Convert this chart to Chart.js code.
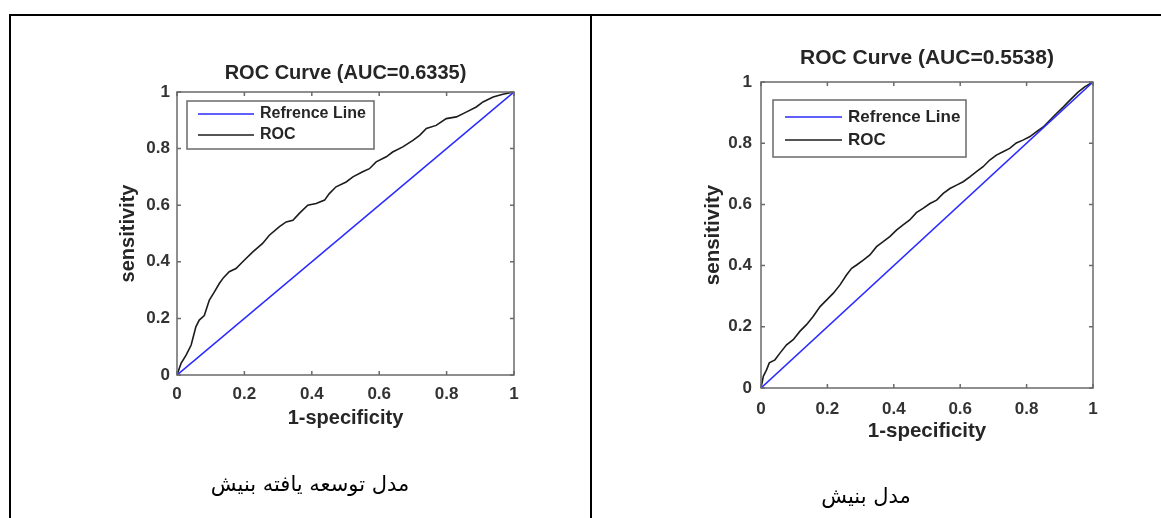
<!DOCTYPE html>
<html><head><meta charset="utf-8">
<script src="https://cdn.jsdelivr.net/npm/chart.js@4.4.0/dist/chart.umd.min.js"></script>
<style>
html,body{margin:0;padding:0;background:#fff;}
body{width:1161px;height:518px;position:relative;overflow:hidden;}
.line{position:absolute;background:#000;}
.cap{position:absolute;font-family:"DejaVu Sans";font-size:21px;color:#000;direction:rtl;white-space:nowrap;transform:translate(-50%,-50%);}
.box{position:absolute;}
</style></head><body>
<div class="line" style="left:9px;top:14px;width:1152px;height:2px"></div>
<div class="line" style="left:9px;top:14px;width:2px;height:504px"></div>
<div class="line" style="left:590px;top:14px;width:2px;height:504px"></div>
<div class="box" style="left:0;top:0;width:590px;height:518px"><canvas id="c1"></canvas></div>
<div class="box" style="left:592px;top:0;width:569px;height:518px"><canvas id="c2"></canvas></div>
<div class="cap" style="left:310px;top:484px">مدل توسعه یافته بنیش</div>
<div class="cap" style="left:866px;top:496px">مدل بنیش</div>
<script>
const tickValues = [0, 0.2, 0.4, 0.6, 0.8, 1];
const tickLabels = ['0', '0.2', '0.4', '0.6', '0.8', '1'];
const seriesNames = ['Refrence Line', 'ROC'];
const refFpr = [0, 1];
const refTpr = [0, 1];
const titleA = 'ROC Curve (AUC=0.6335)';
const titleB = 'ROC Curve (AUC=0.5538)';
const xTitle = '1-specificity';
const yTitle = 'sensitivity';
const rocA_fpr = [0,0.012,0.027,0.042,0.056,0.066,0.081,0.096,0.111,0.126,0.138,0.155,0.175,0.195,0.225,0.254,0.274,0.304,0.324,0.344,0.363,0.388,0.413,0.438,0.452,0.472,0.502,0.522,0.551,0.571,0.591,0.621,0.64,0.67,0.7,0.72,0.74,0.769,0.799,0.829,0.858,0.888,0.908,0.938,0.967,1];
const rocA_tpr = [0,0.041,0.07,0.106,0.17,0.194,0.21,0.265,0.294,0.324,0.344,0.365,0.376,0.4,0.435,0.465,0.494,0.524,0.541,0.547,0.571,0.6,0.606,0.618,0.641,0.665,0.682,0.7,0.718,0.729,0.753,0.771,0.788,0.806,0.829,0.847,0.871,0.882,0.906,0.912,0.929,0.947,0.965,0.982,0.992,1];
const rocB_fpr = [0,0.007,0.017,0.025,0.042,0.057,0.077,0.097,0.117,0.137,0.157,0.178,0.198,0.218,0.238,0.258,0.273,0.288,0.308,0.328,0.348,0.368,0.388,0.408,0.428,0.448,0.468,0.488,0.509,0.529,0.549,0.569,0.589,0.609,0.629,0.649,0.669,0.689,0.709,0.729,0.749,0.769,0.789,0.809,0.829,0.85,0.87,0.89,0.91,0.93,0.955,0.975,1];
const rocB_tpr = [0,0.038,0.06,0.082,0.092,0.114,0.141,0.158,0.185,0.207,0.234,0.266,0.288,0.31,0.337,0.37,0.391,0.402,0.418,0.435,0.462,0.478,0.495,0.516,0.533,0.549,0.573,0.587,0.603,0.614,0.636,0.652,0.663,0.674,0.69,0.707,0.723,0.745,0.761,0.772,0.783,0.801,0.81,0.821,0.837,0.853,0.875,0.897,0.918,0.94,0.967,0.984,1];

const FONT = '"Liberation Sans", Arial, sans-serif';
const TXT = '#262626';

const matlabBox = {
  id: 'matlabBox',
  afterDatasetsDraw(chart, args, opts) {
    const {ctx, chartArea: a, scales: {x, y}} = chart;
    ctx.save();
    ctx.strokeStyle = opts.color; ctx.lineWidth = opts.width;
    ctx.strokeRect(a.left, a.top, a.right - a.left, a.bottom - a.top);
    const L = opts.tickLen;
    ctx.beginPath();
    tickValues.forEach(v => {
      const px = x.getPixelForValue(v), py = y.getPixelForValue(v);
      ctx.moveTo(px, a.bottom); ctx.lineTo(px, a.bottom - L);
      ctx.moveTo(px, a.top); ctx.lineTo(px, a.top + L);
      ctx.moveTo(a.left, py); ctx.lineTo(a.left + L, py);
      ctx.moveTo(a.right, py); ctx.lineTo(a.right - L, py);
    });
    ctx.stroke();
    const lg = opts.legend;
    const bx = a.left + lg.dx, by = a.top + lg.dy;
    ctx.fillStyle = '#fff'; ctx.fillRect(bx, by, lg.w, lg.h);
    ctx.strokeStyle = opts.color; ctx.lineWidth = 1.5; ctx.strokeRect(bx, by, lg.w, lg.h);
    chart.data.datasets.forEach((ds, i) => {
      const ry = by + lg.rows[i];
      ctx.strokeStyle = ds.borderColor; ctx.lineWidth = ds.borderWidth;
      ctx.beginPath(); ctx.moveTo(bx + lg.lineX, ry); ctx.lineTo(bx + lg.lineX + lg.lineLen, ry); ctx.stroke();
      ctx.fillStyle = TXT; ctx.font = 'bold ' + lg.font + 'px ' + FONT;
      ctx.textBaseline = 'middle'; ctx.textAlign = 'left';
      ctx.fillText(ds.label, bx + lg.textX, ry);
    });
    ctx.restore();
  }
};

function pts(xs, ys) { return xs.map((v, i) => ({x: v, y: ys[i]})); }

function makeChart(id, fpr, tpr, title, g) {
  const axisCommon = () => ({
    type: 'linear', min: 0, max: 1,
    afterBuildTicks: s => { s.ticks = tickValues.map(v => ({value: v})); },
    grid: {display: false, drawTicks: false, tickLength: 0},
    border: {display: false},
  });
  return new Chart(document.getElementById(id), {
    type: 'line',
    data: {datasets: [
      {label: seriesNames[0], data: pts(refFpr, refTpr), borderColor: '#2b2bff', borderWidth: 1.6, pointRadius: 0, tension: 0},
      {label: seriesNames[1], data: pts(fpr, tpr), borderColor: '#1c1c1c', borderWidth: 1.6, pointRadius: 0, tension: 0}
    ]},
    options: {
      responsive: true, maintainAspectRatio: false, animation: false,
      layout: {padding: {left: g.padL, right: g.padR, top: g.padT, bottom: g.padB}},
      plugins: {
        legend: {display: false}, tooltip: {enabled: false},
        title: {display: true, text: title, fullSize: false, color: TXT,
          font: {family: FONT, size: g.titleSize, weight: 'bold', lineHeight: 1.2},
          padding: {top: 0, bottom: g.titleGap}},
        matlabBox: {color: '#6a6a6a', width: 1.5, tickLen: 4, legend: g.legend}
      },
      scales: {
        x: Object.assign(axisCommon(), {
          afterFit: s => { s.height = g.xH; },
          ticks: {autoSkip: false, maxRotation: 0, padding: g.xTickPad, color: '#333',
            font: {family: FONT, size: g.tickSize, weight: 'bold'},
            callback: (v, i) => tickLabels[i]},
          title: {display: true, text: xTitle, color: TXT, padding: 0,
            font: {family: FONT, size: g.axTitleSize, weight: 'bold', lineHeight: 1.2}}
        }),
        y: Object.assign(axisCommon(), {
          afterFit: s => { s.width = g.yW; },
          ticks: {autoSkip: false, padding: g.yTickPad, color: '#333',
            font: {family: FONT, size: g.tickSize, weight: 'bold'},
            callback: (v, i) => tickLabels[i]},
          title: {display: true, text: yTitle, color: TXT, padding: 0,
            font: {family: FONT, size: g.axTitleSize, weight: 'bold', lineHeight: 1.2}}
        })
      }
    },
    plugins: [matlabBox]
  });
}

makeChart('c1', rocA_fpr, rocA_tpr, titleA, {
  padL: 116, padR: 76, padT: 61, padB: 88, titleGap: 7, titleSize: 20,
  yW: 61, xH: 55, tickSize: 17, axTitleSize: 20, xTickPad: 9, yTickPad: 7,
  legend: {dx: 10, dy: 9, w: 187, h: 48, rows: [13, 34], lineX: 11, lineLen: 56, textX: 73, font: 16}
});
makeChart('c2', rocB_fpr, rocB_tpr, titleB, {
  padL: 109, padR: 68, padT: 45.4, padB: 74, titleGap: 11.4, titleSize: 21,
  yW: 60, xH: 56, tickSize: 17, axTitleSize: 20.5, xTickPad: 11, yTickPad: 9,
  legend: {dx: 12, dy: 18, w: 193, h: 57, rows: [17, 40], lineX: 12, lineLen: 57, textX: 75, font: 17}
});
</script>
</body></html>
